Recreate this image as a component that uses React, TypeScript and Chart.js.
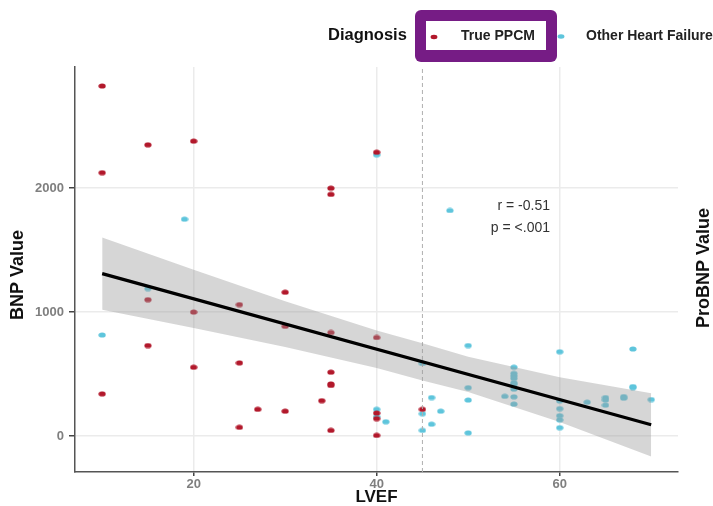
import React, { useEffect, useRef } from "react";
import { Chart, registerables } from "chart.js";

Chart.register(...registerables);

// ---- data ----
const xTicks = [20, 40, 60];
const yTicks = [0, 1000, 2000];

const ppcmX = [10, 10, 15, 20, 40, 35, 35, 15, 25, 20, 30, 30, 35, 40, 15, 20, 25, 10, 27, 25, 35, 35, 35, 34, 30, 35, 40, 40, 40, 45];
const ppcmY = [2825, 2125, 2350, 2380, 2290, 2000, 1950, 1100, 1060, 1000, 1160, 885, 835, 795, 730, 555, 590, 340, 215, 70, 515, 420, 408, 285, 200, 45, 185, 140, 5, 215];

const otherX = [19, 40, 48, 15, 10, 40, 40, 41, 45, 45, 45, 46, 47, 46, 50, 50, 50, 50, 54, 55, 55, 55, 55, 55, 55, 55, 55, 55, 60, 60, 60, 60, 60, 60, 63, 65, 65, 65, 67, 67, 68, 68, 68, 70];
const otherY = [1750, 2270, 1820, 1190, 815, 215, 155, 115, 585, 180, 45, 310, 200, 95, 730, 390, 290, 25, 320, 555, 505, 485, 465, 430, 418, 378, 316, 257, 680, 283, 221, 164, 130, 67, 273, 310, 291, 249, 318, 305, 702, 399, 391, 294];

const fitX = [10, 70];
const fitY = [1310, 90];

const bandX = [10, 20, 30, 40, 45, 50, 60, 70];
const bandUpper = [1602, 1342, 1088, 852, 748, 640, 473, 345];
const bandLower = [1018, 872, 718, 548, 448, 354, 113, -165];

const cutoffX = 45;
const statR = "r = -0.51";
const statP = "p = <.001";

const RED = "#b2182b";
const BLUE = "#5ec5dc";
const FONT = "'Liberation Sans', Arial, sans-serif";

function ellipse(color: string) {
  const c = document.createElement("canvas");
  c.width = 8;
  c.height = 6;
  const g = c.getContext("2d")!;
  g.fillStyle = color;
  g.beginPath();
  g.ellipse(4, 3, 3.6, 2.6, 0, 0, Math.PI * 2);
  g.fill();
  return c;
}

const pairs = (xs: number[], ys: number[]) => xs.map((x, i) => ({ x, y: ys[i] }));

const textPlugin = {
  id: "texts",
  afterDraw(chart: any) {
    const ctx = chart.ctx as CanvasRenderingContext2D;
    ctx.save();
    // legend
    ctx.fillStyle = "#761c85";
    ctx.beginPath();
    (ctx as any).roundRect(415, 10, 142, 52, 6);
    ctx.fill();
    ctx.fillStyle = "#ffffff";
    ctx.fillRect(426, 21, 120, 29);

    ctx.textBaseline = "middle";
    ctx.textAlign = "left";
    ctx.fillStyle = "#111";
    ctx.font = `bold 16.5px ${FONT}`;
    ctx.fillText("Diagnosis", 328, 35);

    ctx.font = `bold 14px ${FONT}`;
    ctx.fillStyle = "#222";
    ctx.fillText("True PPCM", 461, 36);
    ctx.fillText("Other Heart Failure", 586, 36);

    ctx.fillStyle = RED;
    ctx.beginPath();
    ctx.ellipse(434, 37, 3.4, 2.2, 0, 0, Math.PI * 2);
    ctx.fill();
    ctx.fillStyle = BLUE;
    ctx.beginPath();
    ctx.ellipse(561, 36.5, 3.4, 2.2, 0, 0, Math.PI * 2);
    ctx.fill();

    // stats
    ctx.fillStyle = "#333";
    ctx.font = `14px ${FONT}`;
    ctx.textAlign = "right";
    ctx.textBaseline = "alphabetic";
    ctx.fillText(statR, 550, 210);
    ctx.fillText(statP, 550, 232);

    // axis titles
    ctx.fillStyle = "#111";
    ctx.textAlign = "center";
    ctx.textBaseline = "middle";
    ctx.font = `bold 17px ${FONT}`;
    ctx.fillText("LVEF", 376.5, 497);

    ctx.font = `bold 18px ${FONT}`;
    ctx.save();
    ctx.translate(18, 275);
    ctx.rotate(-Math.PI / 2);
    ctx.fillText("BNP Value", 0, 0);
    ctx.restore();

    ctx.save();
    ctx.translate(704, 268);
    ctx.rotate(-Math.PI / 2);
    ctx.fillText("ProBNP Value", 0, 0);
    ctx.restore();

    ctx.restore();
  },
};

export default function App() {
  const ref = useRef<HTMLCanvasElement>(null);

  useEffect(() => {
    const canvas = ref.current!;
    const redPt = ellipse(RED);
    const bluePt = ellipse(BLUE);
    const chart = new Chart(canvas, {
      type: "scatter",
      data: {
        datasets: [
          {
            type: "line",
            label: "fit",
            data: pairs(fitX, fitY),
            borderColor: "#000",
            borderWidth: 3.2,
            pointRadius: 0,
            fill: false,
            order: 0,
          },
          {
            type: "line",
            label: "upper",
            data: pairs(bandX, bandUpper),
            borderWidth: 0,
            borderColor: "rgba(0,0,0,0)",
            backgroundColor: "rgba(153,153,153,0.4)",
            pointRadius: 0,
            fill: "+1",
            order: 1,
          },
          {
            type: "line",
            label: "lower",
            data: pairs(bandX, bandLower),
            borderWidth: 0,
            borderColor: "rgba(0,0,0,0)",
            pointRadius: 0,
            fill: false,
            order: 2,
          },
          {
            type: "line",
            label: "cutoff",
            data: [
              { x: cutoffX, y: -291 },
              { x: cutoffX, y: 2978 },
            ],
            borderColor: "#b0b0b0",
            borderWidth: 1,
            borderDash: [4, 3],
            pointRadius: 0,
            fill: false,
            order: 3,
          },
          {
            label: "True PPCM",
            data: pairs(ppcmX, ppcmY),
            pointStyle: redPt as any,
            backgroundColor: RED,
            order: 4,
          },
          {
            label: "Other Heart Failure",
            data: pairs(otherX, otherY),
            pointStyle: bluePt as any,
            backgroundColor: BLUE,
            order: 5,
          },
        ],
      },
      options: {
        responsive: false,
        animation: false,
        devicePixelRatio: 1,
        layout: { padding: { top: 67, right: 35, left: 0, bottom: 0 } },
        plugins: { legend: { display: false }, tooltip: { enabled: false }, title: { display: false } },
        scales: {
          x: {
            type: "linear",
            min: 7.03,
            max: 72.93,
            afterBuildTicks: (s: any) => {
              s.ticks = xTicks.map((v) => ({ value: v }));
            },
            afterFit: (s: any) => {
              s.height = 34;
            },
            ticks: {
              font: { family: FONT, size: 13, weight: "bold" },
              color: "#7f7f7f",
              padding: 1,
              maxRotation: 0,
              callback: (v: any) => String(v),
            },
            grid: { color: "#ebebeb", lineWidth: 1.5, tickColor: "#444", tickLength: 4 },
            border: { display: true, color: "#555", width: 1.5 },
          },
          y: {
            type: "linear",
            min: -291,
            max: 2978,
            afterBuildTicks: (s: any) => {
              s.ticks = yTicks.map((v) => ({ value: v }));
            },
            afterFit: (s: any) => {
              s.width = 75;
            },
            ticks: {
              font: { family: FONT, size: 13, weight: "bold" },
              color: "#7f7f7f",
              padding: 5,
              callback: (v: any) => String(v),
            },
            grid: { color: "#ebebeb", lineWidth: 1.5, tickColor: "#444", tickLength: 6 },
            border: { display: true, color: "#555", width: 1.5 },
          },
        },
      },
      plugins: [textPlugin],
    } as any);
    return () => chart.destroy();
  }, []);

  return (
    <div style={{ position: "absolute", left: 0, top: 0, width: 713, height: 506, background: "#fff" }}>
      <canvas ref={ref} width={713} height={506} style={{ display: "block" }} />
    </div>
  );
}
